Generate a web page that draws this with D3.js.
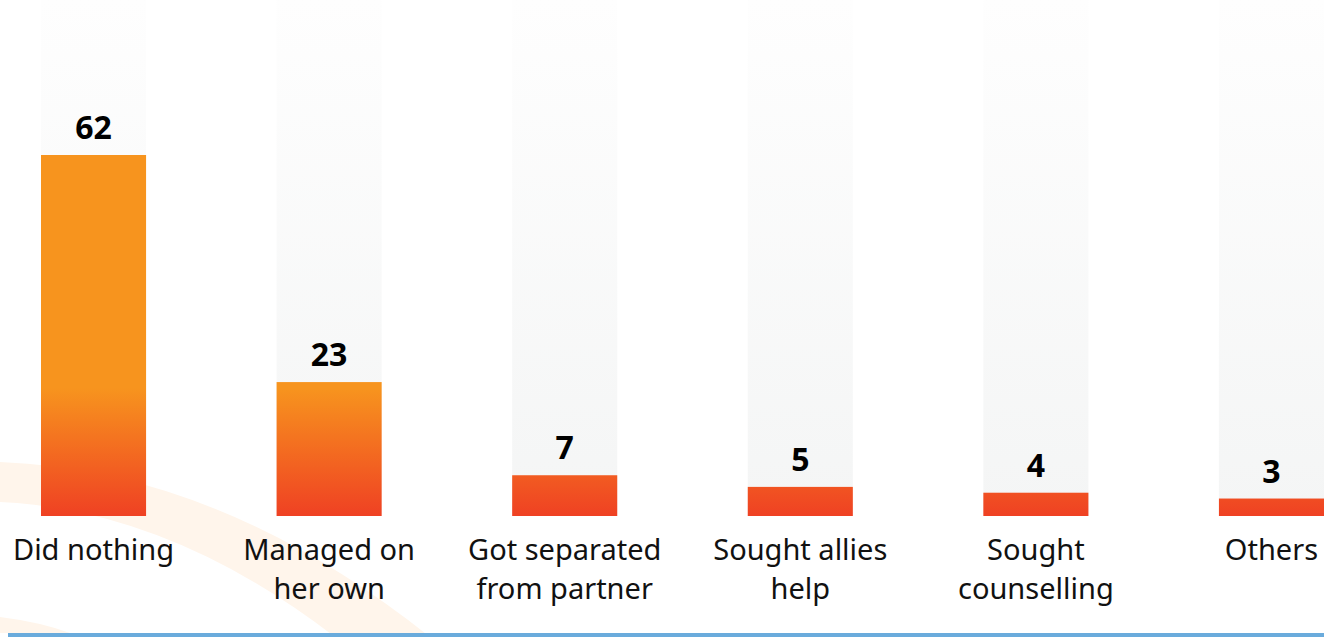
<!DOCTYPE html>
<html>
<head>
<meta charset="utf-8">
<script src="https://cdn.jsdelivr.net/npm/d3@7"></script>
<style>
  html, body { margin: 0; padding: 0; background: #fff; }
  svg { display: block; }
</style>
</head>
<body>
<div id="chart"></div>
<script>
// Data
var categories = ["Did nothing", "Managed on her own", "Got separated from partner",
                  "Sought allies help", "Sought counselling", "Others"];
var labelLines = [["Did nothing"], ["Managed on", "her own"], ["Got separated", "from partner"],
                  ["Sought allies", "help"], ["Sought", "counselling"], ["Others"]];
var values = [62, 23, 7, 5, 4, 3];

var svgWidth = 1330;
var svgHeight = 637;

var margin = { top: 155, left: 41, right: 6, bottom: 121 };
var baseY = svgHeight - margin.bottom; // bottom of bars

var svg = d3.select("#chart")
  .append("svg")
  .attr("width", svgWidth)
  .attr("height", svgHeight);

var defs = svg.append("defs");

// bar gradient (orange -> red), same for all bars
var barGrad = defs.append("linearGradient")
  .attr("id", "barGrad")
  .attr("gradientUnits", "userSpaceOnUse")
  .attr("x1", 0).attr("x2", 0)
  .attr("y1", 388).attr("y2", baseY);
barGrad.append("stop").attr("offset", "0%").attr("stop-color", "#f7941e");
barGrad.append("stop").attr("offset", "100%").attr("stop-color", "#ef4123");

// track gradient (almost white at top, light grey at bottom)
var trackGrad = defs.append("linearGradient")
  .attr("id", "trackGrad")
  .attr("x1", 0).attr("x2", 0)
  .attr("y1", 0).attr("y2", 1);
trackGrad.append("stop").attr("offset", "0%").attr("stop-color", "#fefefe");
trackGrad.append("stop").attr("offset", "100%").attr("stop-color", "#f4f5f5");

// faint decorative swoosh in the background
svg.append("path")
  .attr("d", "M0,462 Q220,470 430,637 L335,637 Q170,510 0,502 Z")
  .attr("fill", "#fff5eb");
svg.append("path")
  .attr("d", "M0,617 Q40,622 70,633 L0,633 Z")
  .attr("fill", "#fff5eb");

// scales
var x = d3.scaleBand()
  .domain(categories)
  .range([margin.left, svgWidth - margin.right])
  .paddingInner(0.554)
  .paddingOuter(0);

var y = d3.scaleLinear()
  .domain([0, d3.max(values)])
  .range([baseY, margin.top]);

var data = categories.map(function(c, i) {
  return { cat: c, value: values[i], lines: labelLines[i] };
});

// background tracks
svg.selectAll("rect.track")
  .data(data)
  .enter()
  .append("rect")
  .attr("class", "track")
  .attr("x", d => x(d.cat))
  .attr("y", 0)
  .attr("width", x.bandwidth())
  .attr("height", baseY)
  .attr("fill", "url(#trackGrad)");

// bars
svg.selectAll("rect.bar")
  .data(data)
  .enter()
  .append("rect")
  .attr("class", "bar")
  .attr("x", d => x(d.cat))
  .attr("y", d => y(d.value))
  .attr("width", x.bandwidth())
  .attr("height", d => baseY - y(d.value))
  .attr("fill", "url(#barGrad)");

// value labels
svg.selectAll("text.value")
  .data(data)
  .enter()
  .append("text")
  .attr("class", "value")
  .attr("x", d => x(d.cat) + x.bandwidth() / 2)
  .attr("y", d => y(d.value) - 16)
  .attr("text-anchor", "middle")
  .attr("font-family", "'Noto Sans', sans-serif")
  .attr("font-weight", "bold")
  .style("font-size", "32px")
  .attr("fill", "#000")
  .text(d => d.value);

// category labels (wrapped)
var catLabels = svg.selectAll("text.cat")
  .data(data)
  .enter()
  .append("text")
  .attr("class", "cat")
  .attr("text-anchor", "middle")
  .attr("font-family", "'Noto Sans', sans-serif")
  .style("font-size", "29px")
  .attr("fill", "#111");

catLabels.selectAll("tspan")
  .data(d => d.lines.map(l => ({ line: l, cat: d.cat })))
  .enter()
  .append("tspan")
  .attr("x", d => x(d.cat) + x.bandwidth() / 2)
  .attr("y", (d, i) => baseY + 44 + i * 39)
  .text(d => d.line);

// blue rule at the bottom
svg.append("rect")
  .attr("x", 8)
  .attr("y", 633)
  .attr("width", svgWidth - margin.right - 8)
  .attr("height", 4)
  .attr("fill", "#6aabdc");
</script>
</body>
</html>
